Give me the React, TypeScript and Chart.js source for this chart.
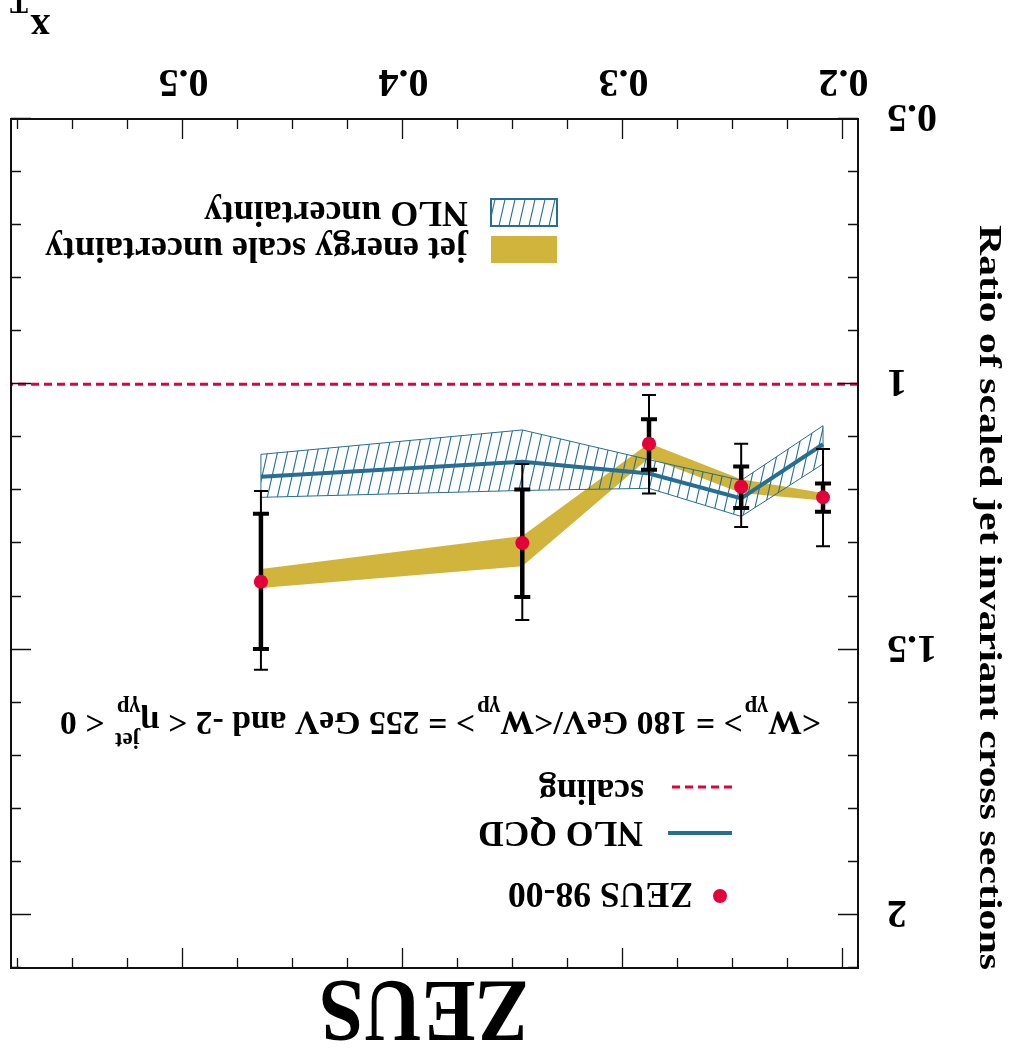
import { useEffect, useRef } from "react";
import { Chart, registerables } from "chart.js";

Chart.register(...registerables);

// ZEUS 98-00: ratio of scaled jet invariant cross sections vs x_T
const xT = [0.2093, 0.2465, 0.2884, 0.346, 0.4648];
const ratio = [1.213, 1.193, 1.112, 1.299, 1.372];
const statLow = [1.187, 1.155, 1.066, 1.198, 1.244];
const statHigh = [1.24, 1.233, 1.161, 1.401, 1.499];
const totLow = [1.122, 1.112, 1.02, 1.15, 1.201];
const totHigh = [1.305, 1.269, 1.206, 1.444, 1.538];

// NLO QCD prediction and its uncertainty band
const nloCentral = [1.113, 1.215, 1.168, 1.146, 1.174];
const nloLow = [1.078, 1.181, 1.142, 1.086, 1.132];
const nloHigh = [1.15, 1.249, 1.196, 1.2, 1.213];

// jet energy scale uncertainty band around the data
const jesLow = [1.205, 1.179, 1.111, 1.286, 1.348];
const jesHigh = [1.219, 1.205, 1.139, 1.343, 1.384];

const scalingValue = 1;

const xTickLabels = [0.2, 0.3, 0.4, 0.5];
const yTickLabels = [0.5, 1, 1.5, 2];

const X_MIN = 0.1934;
const X_MAX = 0.5784;
const Y_MIN = 0.5;
const Y_MAX = 2.1;

const W = 1011;
const H = 1053;

const RED = "#e4003b";
const BLUE = "#266e93";
const GOLD = "#d0b43c";
const SERIF = "'Liberation Serif', 'Times New Roman', serif";

function makeHatch(): CanvasPattern | string {
  const c = document.createElement("canvas");
  c.width = 10;
  c.height = 44;
  const g = c.getContext("2d");
  if (!g) return "rgba(0,0,0,0)";
  g.strokeStyle = BLUE;
  g.lineWidth = 1.1;
  for (const off of [-10, 0, 10]) {
    g.beginPath();
    g.moveTo(off, 44);
    g.lineTo(off + 10, 0);
    g.stroke();
  }
  return g.createPattern(c, "repeat") || BLUE;
}

function fitText(
  ctx: CanvasRenderingContext2D,
  text: string,
  x: number,
  y: number,
  width: number,
  font: string
) {
  ctx.font = font;
  const w = ctx.measureText(text).width;
  ctx.save();
  ctx.translate(x, y);
  ctx.scale(width / w, 1);
  ctx.textAlign = "left";
  ctx.textBaseline = "alphabetic";
  ctx.fillText(text, 0, 0);
  ctx.restore();
}

const pts = (ys: number[]) => xT.map((x, i) => ({ x, y: ys[i] }));

export default function App() {
  const ref = useRef<HTMLCanvasElement>(null);

  useEffect(() => {
    const canvas = ref.current;
    if (!canvas) return;
    const hatch = makeHatch();
    const POINTS_INDEX = 8;

    const framePlugin = {
      id: "zeusFrame",
      beforeDatasetDraw(chart: any, args: any) {
        if (args.index !== POINTS_INDEX) return;
        const ctx: CanvasRenderingContext2D = chart.ctx;
        const xs = chart.scales.x;
        const ys = chart.scales.y;
        ctx.save();
        ctx.strokeStyle = "#000";
        for (let i = 0; i < xT.length; i++) {
          const px = xs.getPixelForValue(xT[i]);
          // total uncertainty: thin bar
          const t0 = ys.getPixelForValue(totLow[i]);
          const t1 = ys.getPixelForValue(totHigh[i]);
          ctx.lineWidth = 2;
          ctx.beginPath();
          ctx.moveTo(px, t0);
          ctx.lineTo(px, t1);
          ctx.moveTo(px - 7, t0);
          ctx.lineTo(px + 7, t0);
          ctx.moveTo(px - 7, t1);
          ctx.lineTo(px + 7, t1);
          ctx.stroke();
          // statistical uncertainty: thick bar
          const s0 = ys.getPixelForValue(statLow[i]);
          const s1 = ys.getPixelForValue(statHigh[i]);
          ctx.lineWidth = 4.5;
          ctx.beginPath();
          ctx.moveTo(px, s0);
          ctx.lineTo(px, s1);
          ctx.stroke();
          ctx.lineWidth = 4;
          ctx.beginPath();
          ctx.moveTo(px - 8, s0);
          ctx.lineTo(px + 8, s0);
          ctx.moveTo(px - 8, s1);
          ctx.lineTo(px + 8, s1);
          ctx.stroke();
        }
        ctx.restore();
      },
      afterDatasetsDraw(chart: any) {
        const ctx: CanvasRenderingContext2D = chart.ctx;
        const { left, right, top, bottom } = chart.chartArea;
        const xs = chart.scales.x;
        const ys = chart.scales.y;
        ctx.save();
        ctx.strokeStyle = "#111";
        ctx.lineWidth = 1.3;
        ctx.beginPath();
        for (let k = 8; k * 0.025 <= X_MAX + 1e-9; k++) {
          const v = k * 0.025;
          if (v < X_MIN) continue;
          const px = Math.round(xs.getPixelForValue(v)) + 0.5;
          const len = k % 4 === 0 ? 20 : 10;
          ctx.moveTo(px, bottom);
          ctx.lineTo(px, bottom - len);
          ctx.moveTo(px, top);
          ctx.lineTo(px, top + len);
        }
        for (let k = 5; k <= 21; k++) {
          const py = Math.round(ys.getPixelForValue(k / 10)) + 0.5;
          const len = k % 5 === 0 ? 20 : 10;
          ctx.moveTo(left, py);
          ctx.lineTo(left + len, py);
          ctx.moveTo(right, py);
          ctx.lineTo(right - len, py);
        }
        ctx.stroke();
        ctx.lineWidth = 2;
        ctx.strokeRect(left, top, right - left, bottom - top);

        // tick labels
        ctx.fillStyle = "#000";
        ctx.font = `bold 40px ${SERIF}`;
        ctx.textAlign = "center";
        ctx.textBaseline = "alphabetic";
        for (const v of xTickLabels) {
          ctx.fillText(String(v), xs.getPixelForValue(v), bottom + 49);
        }
        ctx.textAlign = "right";
        for (const v of yTickLabels) {
          ctx.fillText(String(v), left - 29, ys.getPixelForValue(v) + 14);
        }
        ctx.restore();
      },
      afterDraw(chart: any) {
        const ctx: CanvasRenderingContext2D = chart.ctx;
        ctx.save();
        ctx.fillStyle = "#000";

        // experiment label
        fitText(ctx, "ZEUS", 482, 71, 210, `bold 88px ${SERIF}`);

        // axis titles
        ctx.save();
        ctx.translate(31, 828);
        ctx.rotate(-Math.PI / 2);
        fitText(ctx, "Ratio of scaled jet invariant cross sections", 0, 0, 745, `bold 32px ${SERIF}`);
        ctx.restore();
        ctx.font = `bold 39px ${SERIF}`;
        ctx.textAlign = "left";
        ctx.fillText("x", 961, 1038);
        ctx.font = `bold 27px ${SERIF}`;
        ctx.fillText("T", 983, 1058);

        // legend: data / NLO / scaling
        ctx.fillStyle = RED;
        ctx.beginPath();
        ctx.arc(291, 157, 7, 0, Math.PI * 2);
        ctx.fill();
        ctx.strokeStyle = BLUE;
        ctx.lineWidth = 4;
        ctx.beginPath();
        ctx.moveTo(279, 220);
        ctx.lineTo(343, 220);
        ctx.stroke();
        ctx.strokeStyle = RED;
        ctx.lineWidth = 3;
        ctx.setLineDash([8, 5]);
        ctx.beginPath();
        ctx.moveTo(279, 266);
        ctx.lineTo(343, 266);
        ctx.stroke();
        ctx.setLineDash([]);
        ctx.fillStyle = "#000";
        fitText(ctx, "ZEUS 98-00", 318, 170, 185, `bold 36px ${SERIF}`);
        fitText(ctx, "NLO QCD", 368, 231, 165, `bold 36px ${SERIF}`);
        fitText(ctx, "scaling", 367, 273, 105, `bold 36px ${SERIF}`);

        // kinematic range annotation
        {
          const main = `bold 34px ${SERIF}`;
          const small = `bold 23px ${SERIF}`;
          type Piece = { t: string; f: string; dy: number; up?: string };
          const pieces: Piece[] = [
            { t: "<W", f: main, dy: 0 },
            { t: "\u03b3p", f: small, dy: 11 },
            { t: "> = 180 GeV/<W", f: main, dy: 0 },
            { t: "\u03b3p", f: small, dy: 11 },
            { t: "> = 255 GeV and -2 < \u03b7", f: main, dy: 0 },
            { t: "\u03b3p", f: small, dy: 11, up: "jet" },
            { t: " < 0", f: main, dy: 0 },
          ];
          const widths = pieces.map((p) => {
            ctx.font = p.f;
            let w = ctx.measureText(p.t).width;
            if (p.up) w = Math.max(w, ctx.measureText(p.up).width);
            return w + (p.f === small ? 2 : 0);
          });
          const total = widths.reduce((a, b) => a + b, 0);
          ctx.save();
          ctx.translate(190, 341);
          ctx.scale(761 / total, 1);
          let cx = 0;
          ctx.textAlign = "left";
          pieces.forEach((p, i) => {
            ctx.font = p.f;
            ctx.fillText(p.t, cx, p.dy);
            if (p.up) ctx.fillText(p.up, cx, -21);
            cx += widths[i];
          });
          ctx.restore();
        }

        // legend: uncertainty bands
        ctx.fillStyle = hatch as any;
        ctx.fillRect(454, 827, 66, 27);
        ctx.strokeStyle = BLUE;
        ctx.lineWidth = 2;
        ctx.strokeRect(454, 827, 66, 27);
        ctx.fillStyle = GOLD;
        ctx.fillRect(454, 790, 66, 27);
        ctx.fillStyle = "#000";
        fitText(ctx, "NLO uncertainty", 543, 851, 264, `bold 36px ${SERIF}`);
        fitText(ctx, "jet energy scale uncertainty", 543, 815, 423, `bold 36px ${SERIF}`);
        ctx.restore();
      },
    };

    const chart = new Chart(canvas, {
      type: "line",
      data: {
        datasets: [
          {
            label: "jes high",
            data: pts(jesHigh),
            borderWidth: 0,
            pointRadius: 0,
            backgroundColor: GOLD,
            fill: "+1",
            order: 20,
          },
          {
            label: "jes low",
            data: pts(jesLow),
            borderWidth: 0,
            pointRadius: 0,
            fill: false,
            order: 19,
          },
          {
            label: "nlo high",
            data: pts(nloHigh),
            borderColor: BLUE,
            borderWidth: 1,
            pointRadius: 0,
            backgroundColor: hatch as any,
            fill: "+1",
            order: 18,
          },
          {
            label: "nlo low",
            data: pts(nloLow),
            borderColor: BLUE,
            borderWidth: 1,
            pointRadius: 0,
            fill: false,
            order: 17,
          },
          {
            label: "nlo edge left",
            data: [
              { x: xT[0], y: nloLow[0] },
              { x: xT[0], y: nloHigh[0] },
            ],
            borderColor: BLUE,
            borderWidth: 1,
            pointRadius: 0,
            fill: false,
            order: 16,
          },
          {
            label: "nlo edge right",
            data: [
              { x: xT[xT.length - 1], y: nloLow[xT.length - 1] },
              { x: xT[xT.length - 1], y: nloHigh[xT.length - 1] },
            ],
            borderColor: BLUE,
            borderWidth: 1,
            pointRadius: 0,
            fill: false,
            order: 15,
          },
          {
            label: "NLO QCD",
            data: pts(nloCentral),
            borderColor: BLUE,
            borderWidth: 4,
            pointRadius: 0,
            fill: false,
            order: 14,
          },
          {
            label: "scaling",
            data: [
              { x: X_MIN, y: scalingValue },
              { x: X_MAX, y: scalingValue },
            ],
            borderColor: RED,
            borderWidth: 3,
            borderDash: [8, 5],
            pointRadius: 0,
            fill: false,
            order: 13,
          },
          {
            label: "ZEUS 98-00",
            data: pts(ratio),
            showLine: false,
            pointRadius: 7,
            pointBorderWidth: 0,
            pointBackgroundColor: RED,
            backgroundColor: RED,
            fill: false,
            order: 1,
          },
        ],
      },
      options: {
        responsive: false,
        animation: false,
        events: [],
        devicePixelRatio: 1,
        layout: { padding: { left: 153, right: 11, top: 85, bottom: 119 } },
        scales: {
          x: { type: "linear", min: X_MIN, max: X_MAX, display: false },
          y: { type: "linear", min: Y_MIN, max: Y_MAX, display: false },
        },
        plugins: {
          legend: { display: false },
          tooltip: { enabled: false },
          title: { display: false },
        },
      },
      plugins: [framePlugin],
    });
    return () => chart.destroy();
  }, []);

  return (
    <div
      style={{
        position: "fixed",
        left: 0,
        top: 0,
        width: W,
        height: H,
        background: "#fff",
        transform: "rotate(180deg)",
      }}
    >
      <canvas ref={ref} width={W} height={H} style={{ display: "block", width: W, height: H }} />
    </div>
  );
}
